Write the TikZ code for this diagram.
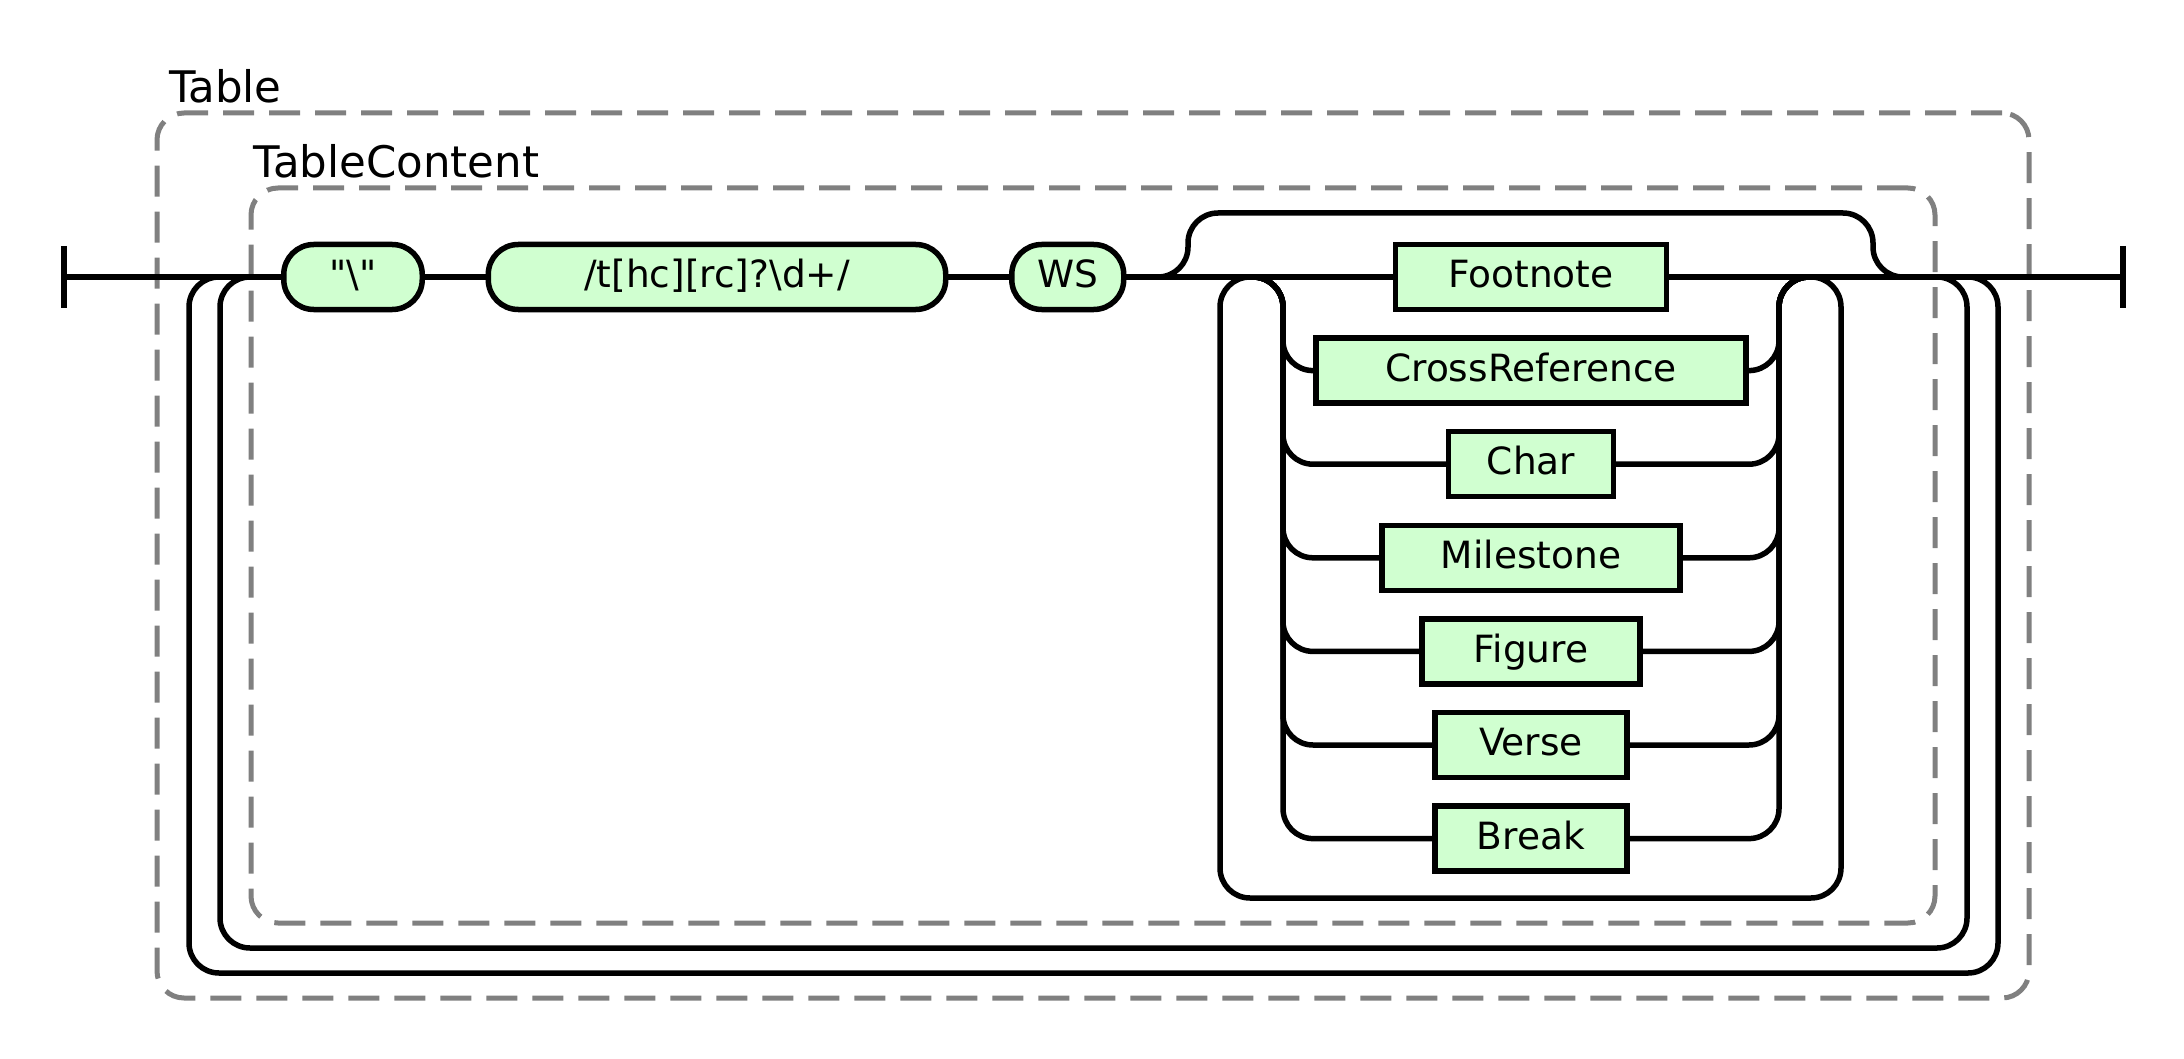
\documentclass[tikz,border=0pt]{standalone}
\usepackage{fontspec}
\setmainfont{DejaVu Sans}
\newfontfamily\rrfont{DejaVu Sans}
\usepackage{xcolor}
\usepackage{tikz}
\usetikzlibrary{positioning}
\tikzset{
  rail/.style    ={line width=5.5pt, rounded corners=30pt},
  endbar/.style  ={line width=6.5pt},
  rrbox/.style   ={draw, line width=5.5pt, fill=rrgreen, inner sep=0pt,
                   outer sep=0pt, minimum height=65pt, minimum width=#1,
                   text height=21.5pt, text depth=0pt,
                   font=\rrfont\fontsize{37.5}{44}\selectfont},
  termbox/.style ={rrbox=#1, rounded corners=30pt},
  ntbox/.style   ={rrbox=#1},
  grpbox/.style  ={draw=grpgray, line width=5pt, rounded corners=27pt,
                   dash pattern=on 31pt off 15pt, inner sep=0pt},
  grplabel/.style={anchor=base west, inner sep=0pt,
                   font=\rrfont\fontsize{43.5}{52}\selectfont},
}
\definecolor{rrgreen}{RGB}{208,255,208}
\definecolor{grpgray}{RGB}{128,128,128}

\begin{document}
\begin{tikzpicture}[x=1pt, y=-1pt, node distance=28.6pt]
  \useasboundingbox (0,0) rectangle (2184,1059);
  \node[grpbox, minimum width=1872pt, minimum height=885pt] (tbl) at (1093,555.5) {};
  \node[grpbox, minimum width=1684pt, minimum height=735pt] (tblc) at (1093,555.5) {};
  \node[grplabel] (tbllbl) at ([xshift=14.5pt, yshift=8pt]tbl.north west) {Table};
  \node[grplabel] (tblclbl) at ([xshift=5pt, yshift=8pt]tblc.north west) {TableContent};

  \coordinate (start)  at (64,277);
  \coordinate (finish) at (2123,277);
  \node[termbox=138.5pt] (bs) at (353,277) {"\textbackslash"};
  \node[termbox=457.5pt, right=66pt of bs] (rx) {/t[hc][rc]?\textbackslash d+/};
  \node[termbox=112pt, right=66pt of rx] (ws) {WS};
  \node[ntbox=271pt] (foot) at (1531,277) {Footnote};
  \node[ntbox=430pt, below=of foot] (xref) {CrossReference};
  \node[ntbox=165pt, below=of xref] (char) {Char};
  \node[ntbox=298pt, below=of char] (mile) {Milestone};
  \node[ntbox=218pt, below=of mile] (fig) {Figure};
  \node[ntbox=192pt, below=of fig] (verse) {Verse};
  \node[ntbox=192pt, below=of verse] (brk) {Break};

  \coordinate (chL)  at (1283,277);
  \coordinate (chR)  at (1779,277);
  \coordinate (lpR)  at (1841,277);
  \coordinate (lpB)  at (1220,898);
  \coordinate (byL)  at (1188,277);
  \coordinate (byR)  at (1873,213);
  \coordinate (inR)  at (1967,277);
  \coordinate (inB)  at (220,948);
  \coordinate (outR) at (1998,277);
  \coordinate (outB) at (189,973);

  \draw[endbar] ([yshift=31pt]start) -- ([yshift=-31pt]start);
  \draw[endbar] ([yshift=31pt]finish) -- ([yshift=-31pt]finish);
  \draw[rail] (start) -- (bs) (bs) -- (rx) (rx) -- (ws) (ws) -- (foot) (foot) -- (finish);
  \foreach \alt in {xref,char,mile,fig,verse,brk}
    \draw[rail] (ws) -- (chL) |- (\alt) (\alt) -| (chR) -- (finish);
  \draw[rail] (foot) -- (lpR) |- (lpB) |- (foot);
  \draw[rail] (ws) -- (byL) |- (byR) |- (finish);
  \draw[rail] (foot) -- (inR) |- (inB) |- (bs);
  \draw[rail] (foot) -- (outR) |- (outB) |- (bs);
\end{tikzpicture}
\end{document}
